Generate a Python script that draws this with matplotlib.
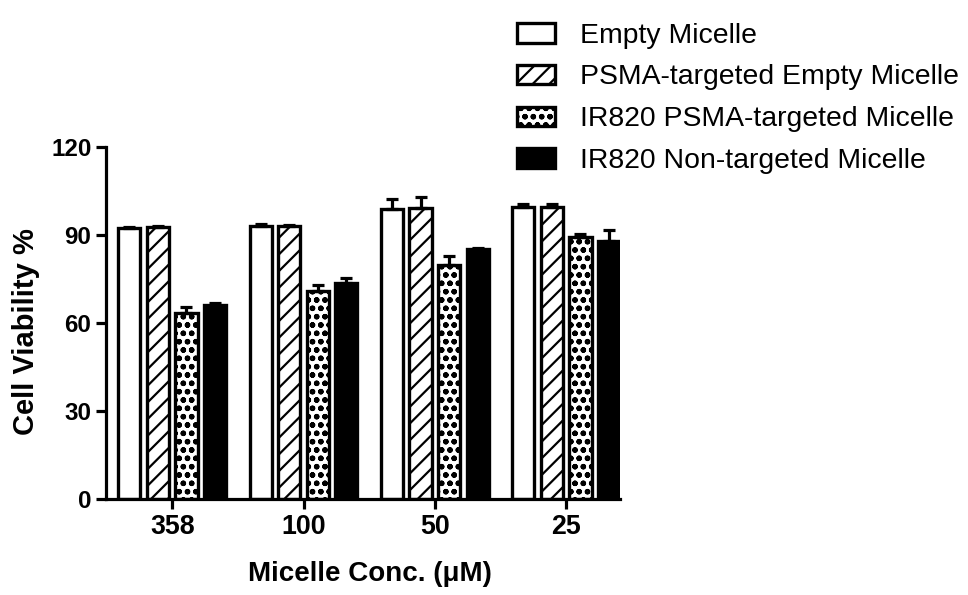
import matplotlib
matplotlib.use("Agg")
import matplotlib.pyplot as plt
import numpy as np

plt.rcParams['font.family'] = ['Liberation Sans', 'DejaVu Sans']
plt.rcParams['hatch.linewidth'] = 1.6

groups = ["358", "100", "50", "25"]
series = ["Empty Micelle", "PSMA-targeted Empty Micelle",
          "IR820 PSMA-targeted Micelle", "IR820 Non-targeted Micelle"]
empty = [92.4, 93.1, 98.8, 99.7]
empty_err = [0.5, 0.5, 3.4, 1.0]
psma_empty = [92.6, 93.0, 99.3, 99.5]
psma_empty_err = [0.5, 0.5, 3.6, 1.0]
ir_psma = [63.5, 71.0, 79.8, 89.4]
ir_psma_err = [2.0, 2.0, 3.0, 1.0]
ir_non = [66.3, 73.5, 85.3, 88.1]
ir_non_err = [0.4, 1.8, 0.4, 3.6]

values = [empty, psma_empty, ir_psma, ir_non]
errors = [empty_err, psma_empty_err, ir_psma_err, ir_non_err]
faces = ['white', 'white', 'white', 'black']
hatches = [None, '//', 'oo', None]

fig = plt.figure(figsize=(9.68, 5.95), dpi=100)
ax = fig.add_axes([0.1095, 0.1613, 0.531, 0.5916])

x = np.arange(len(groups))
pitch = 0.218
width = 0.168
for i, (v, e) in enumerate(zip(values, errors)):
    pos = x + (i - 1.5) * pitch
    ax.bar(pos, v, width, color=faces[i], edgecolor='black', linewidth=2.4,
           hatch=hatches[i], label=series[i], zorder=2)
    ax.errorbar(pos, v, yerr=[np.zeros(len(e)), e], fmt='none', ecolor='black',
                elinewidth=2.3, capsize=4.5, capthick=2.3, zorder=3)

ax.set_xlim(-0.504, 3.41)
ax.set_ylim(0, 120)
ax.set_yticks([0, 30, 60, 90, 120])
ax.set_xticks(x)
ax.set_xticklabels(groups)
for s in ['top', 'right']:
    ax.spines[s].set_visible(False)
for s in ['left', 'bottom']:
    ax.spines[s].set_linewidth(2.3)
ax.tick_params(axis='both', width=2.3, length=7, direction='out')
for lab in ax.get_yticklabels():
    lab.set_fontsize(17.4)
    lab.set_fontweight('bold')
for lab in ax.get_xticklabels():
    lab.set_fontsize(19.3)
    lab.set_fontweight('bold')
ax.set_ylabel("Cell Viability %", fontsize=21, fontweight='bold')
ax.yaxis.set_label_coords(-0.128, 0.475)
ax.set_xlabel("Micelle Conc. (\u03bcM)", fontsize=20, fontweight='bold')
ax.xaxis.set_label_coords(0.514, -0.175)

fig.legend(loc='upper left', bbox_to_anchor=(0.534, 0.962), frameon=False,
           fontsize=20.4, handlelength=1.34, handleheight=0.7, handletextpad=0.88,
           labelspacing=0.56, borderpad=0, borderaxespad=0)

fig.savefig("out.png", dpi=100)
